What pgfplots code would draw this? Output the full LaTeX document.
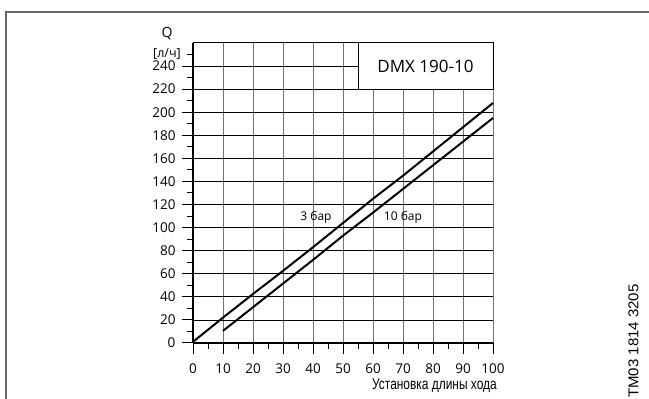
\documentclass[border=0pt]{standalone}
\usepackage{fontspec}
\setmainfont{Open Sans}
\newfontfamily\narrowfont{Liberation Sans}
\usepackage{pgfplots}
\pgfplotsset{compat=1.18}
\begin{document}
\begin{tikzpicture}[x=1pt,y=1pt]
\path[use as bounding box] (0,0) rectangle (649,399);
\draw[line width=1.6pt, black!60] (6,0) -- (6,387) -- (649,387);
\begin{axis}[
  at={(193pt,56pt)}, anchor=south west,
  scale only axis, width=300pt, height=300pt,
  xmin=0, xmax=100, ymin=0, ymax=260,
  axis x line=bottom, axis y line=left,
  axis line style={-, line width=1.3pt, black},
  xtick={0,10,...,100}, ytick={0,20,...,240},
  minor xtick={5,15,...,95}, minor ytick={10,30,...,250},
  tick align=outside,
  major tick length=11pt, minor tick length=6pt,
  every tick/.style={black, line width=1pt},
  xmajorgrids, ymajorgrids,
  x grid style={black!55, line width=1pt},
  y grid style={black, line width=0.8pt},
  tick label style={font=\fontsize{13.5}{15}\selectfont},
  yticklabel style={xshift=-3pt},
  xticklabel style={yshift=-6pt},
  /pgf/number format/assume math mode=true,
  clip=false,
]
\addplot[black, line width=2pt] coordinates {(0,1) (10,22) (20,42.5) (30,62.5) (40,83) (50,104) (60,125) (70,145) (80,166) (90,187) (100,208)};
\addplot[black, line width=2pt] coordinates {(10,10.5) (20,31) (30,51.5) (40,72) (50,93) (60,113) (70,133.5) (80,154) (90,174.5) (100,195)};
\draw[black, line width=1pt] (axis cs:0,260) -- (axis cs:100,260);
\draw[fill=white, line width=1pt] (axis cs:55,220) rectangle (axis cs:100,260);
\node[font=\fontsize{17}{19}\selectfont] at (axis cs:77.5,240) {DMX 190-10};
\node[font=\fontsize{12}{13}\selectfont] at (axis cs:41,108.7) {3 бар};
\node[font=\fontsize{12}{13}\selectfont] at (axis cs:70,108.7) {10 бар};
\end{axis}
\node[font=\fontsize{14}{16}\selectfont] at (167,365) {Q};
\node[font=\fontsize{12.5}{14}\selectfont] at (167,345) {[л/ч]};
\node[anchor=base east, inner sep=0pt, font=\narrowfont\fontsize{15.5}{17}\selectfont] at (497,9) {\scalebox{0.77}[1]{Установка длины хода}};
\node[rotate=90, font=\narrowfont\fontsize{15}{17}\selectfont] at (633.5,58) {\scalebox{1}[0.95]{TM03 1814 3205}};
\end{tikzpicture}
\end{document}
